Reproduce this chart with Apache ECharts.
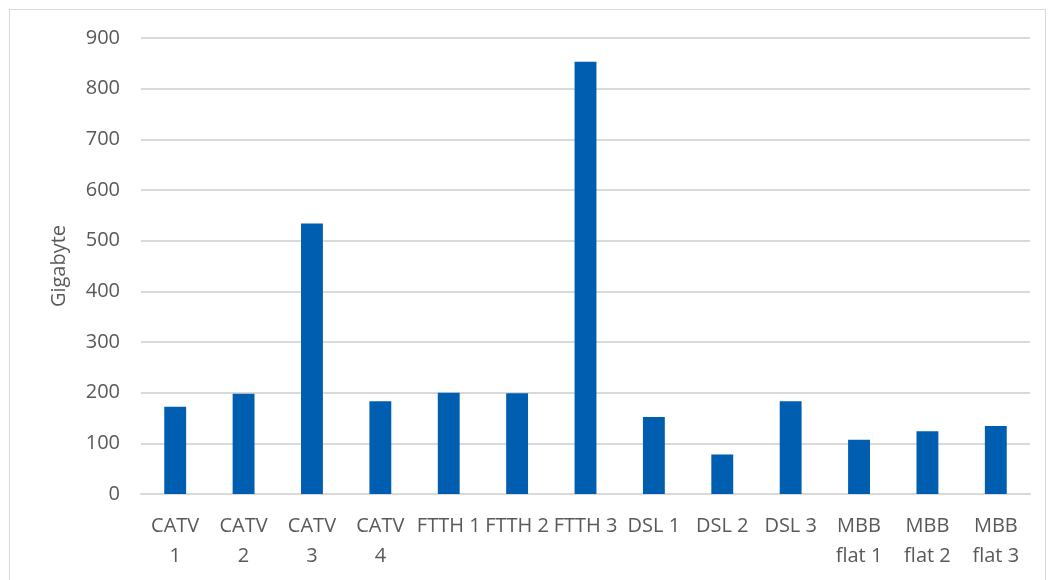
<!DOCTYPE html>
<html>
<head>
<meta charset="utf-8">
<script src="https://cdn.jsdelivr.net/npm/echarts@6/dist/echarts.min.js"></script>
<style>
  html, body { margin: 0; padding: 0; background: #fff; }
  #frame { position: absolute; left: 9px; top: 9px; width: 1037px; height: 575px; border: 1px solid #d9d9d9; box-sizing: border-box; }
  #chart { width: 1050px; height: 580px; }
</style>
</head>
<body>
<div id="frame"></div>
<div id="chart"></div>
<script>
var categories = ['CATV 1', 'CATV 2', 'CATV 3', 'CATV 4', 'FTTH 1', 'FTTH 2', 'FTTH 3',
    'DSL 1', 'DSL 2', 'DSL 3', 'MBB flat 1', 'MBB flat 2', 'MBB flat 3'];
var gigabytes = [172, 198, 534, 183, 200, 199, 853, 152, 78, 183, 107, 124, 134];

var myChart = echarts.init(document.getElementById('chart'));
var font = '"Open Sans", "Noto Sans", sans-serif';
var option = {
    animation: false,
    grid: { left: 141, right: 20, top: 38, bottom: 86 },
    xAxis: {
        type: 'category',
        data: categories,
        axisLine: { lineStyle: { color: '#d9d9d9', width: 2 } },
        axisTick: { show: false },
        axisLabel: {
            color: '#595959',
            fontFamily: font,
            fontSize: 20,
            lineHeight: 30,
            margin: 17,
            interval: 0,
            formatter: function (v) {
                if (v.indexOf('FTTH') === 0 || v.indexOf('DSL') === 0) return v;
                return v.replace(' ', '\n');
            }
        }
    },
    yAxis: {
        type: 'value',
        min: 0,
        max: 900,
        interval: 100,
        name: 'Gigabyte',
        nameLocation: 'middle',
        nameGap: 72,
        nameTextStyle: { color: '#595959', fontFamily: font, fontSize: 20 },
        axisLine: { show: false },
        axisTick: { show: false },
        splitLine: { lineStyle: { color: '#d9d9d9', width: 2 } },
        axisLabel: { color: '#595959', fontFamily: font, fontSize: 20, margin: 21 }
    },
    series: [{
        type: 'bar',
        data: gigabytes,
        barWidth: '32%',
        itemStyle: { color: '#005EB0' }
    }]
};
myChart.setOption(option);
</script>
</body>
</html>
